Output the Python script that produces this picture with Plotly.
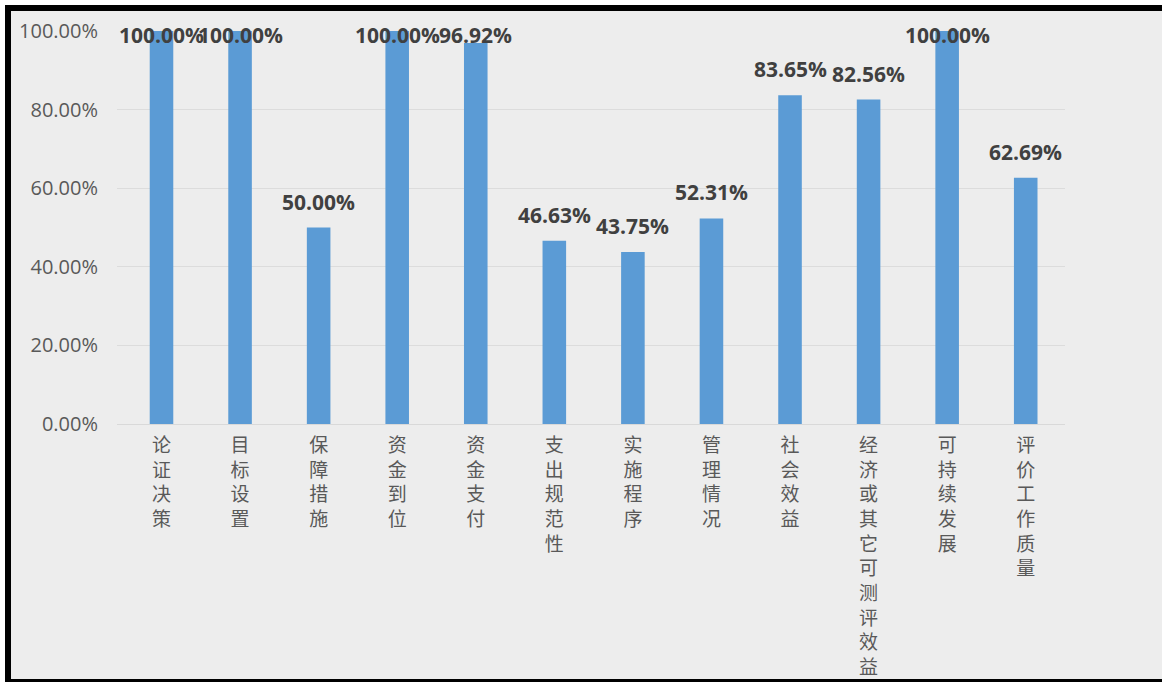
import plotly.graph_objects as go

categories = ["论证决策", "目标设置", "保障措施", "资金到位", "资金支付", "支出规范性",
              "实施程序", "管理情况", "社会效益", "经济或其它可测评效益", "可持续发展", "评价工作质量"]
values = [1.0, 1.0, 0.50, 1.0, 0.9692, 0.4663, 0.4375, 0.5231, 0.8365, 0.8256, 1.0, 0.6269]
y_ticks = [0, 0.2, 0.4, 0.6, 0.8, 1.0]

W, H = 1162, 682
L, R, T, B = 117, 97, 31, 258
plot_h = H - T - B
plot_w = W - L - R

vertical_labels = ["<br>".join(list(c)) for c in categories]

fig = go.Figure()
fig.add_trace(go.Bar(
    x=vertical_labels, y=values, width=0.3,
    marker=dict(color="#5B9BD5", line=dict(width=0)),
    hoverinfo="skip",
))

# data labels (clamped at top of plot area like Excel)
offset = 26 / plot_h
for c, v in zip(vertical_labels, values):
    ly = min(v + offset, 1.0 - 4 / plot_h)
    fig.add_annotation(
        x=c, y=ly, xref="x", yref="y", text=f"{v*100:.2f}%", showarrow=False,
        yanchor="middle", xanchor="center",
        font=dict(family="Open Sans", size=21, color="#404040", weight="bold"),
    )


def px_to_paper_x(px):
    return (px - L) / plot_w


def px_to_paper_y(py):
    return (H - B - py) / plot_h


def rect(x0, y0, x1, y1, color, layer="above"):
    fig.add_shape(type="rect", xref="paper", yref="paper", line=dict(width=0),
                  fillcolor=color, layer=layer,
                  x0=px_to_paper_x(x0), x1=px_to_paper_x(x1),
                  y0=px_to_paper_y(y1), y1=px_to_paper_y(y0))


# white outer strips and black frame (left, top, bottom)
rect(0, 0, W, 5, "white")
rect(0, 0, 5, H, "white")
rect(5, 5, 11, H, "black")
rect(5, 5, W, 11, "black")
rect(5, 679, W, H, "black")

fig.update_layout(
    width=W, height=H,
    margin=dict(l=L, r=R, t=T, b=B, pad=0, autoexpand=False),
    paper_bgcolor="#EDEDED", plot_bgcolor="#EDEDED",
    showlegend=False,
    xaxis=dict(
        showgrid=False, showline=True, linecolor="#D9D9D9", linewidth=1,
        tickfont=dict(family="Noto Sans CJK SC", size=19, color="#595959"),
        tickangle=0, ticks="", ticklabelstandoff=4, fixedrange=True,
        automargin=False,
    ),
    yaxis=dict(
        range=[0, 1], tickvals=y_ticks, tickformat=".2%",
        showgrid=True, gridcolor="#DCDCDC", gridwidth=1, zeroline=False,
        showline=False, ticks="", ticklabelstandoff=18,
        tickfont=dict(family="Open Sans", size=20, color="#595959"),
        fixedrange=True, automargin=False,
    ),
)

fig.write_html("out.html", config={"displayModeBar": False},
               post_script="document.body.style.margin='0';document.body.style.overflow='hidden';")
